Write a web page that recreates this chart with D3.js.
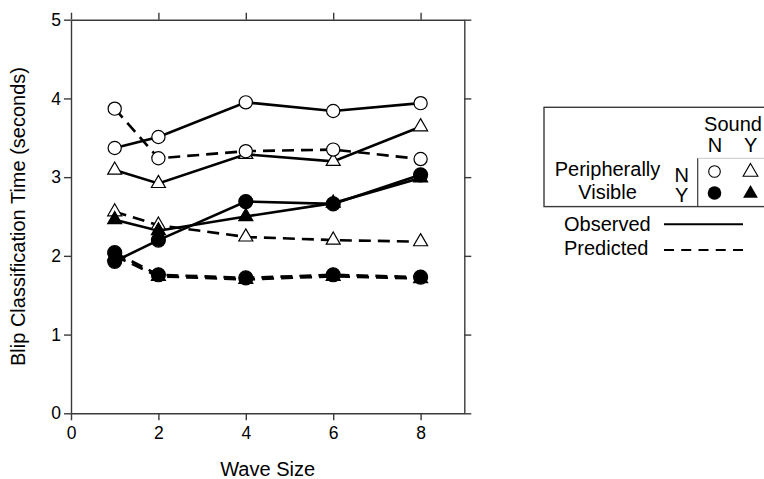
<!DOCTYPE html>
<html><head><meta charset="utf-8">
<script src="https://cdn.jsdelivr.net/npm/d3@7"></script>
<style>
html,body{margin:0;padding:0;background:#fff;}
text{font-family:"Liberation Sans",Arial,Helvetica,sans-serif;fill:#000;}
</style></head>
<body><svg id="chart" width="764" height="479"></svg>
<script>
// ---- data ----
const waveSizes = [1, 2, 4, 6, 8];
const obsOpenCircle     = [3.37, 3.51, 3.95, 3.84, 3.94];
const obsOpenTriangle   = [3.09, 2.92, 3.29, 3.20, 3.64];
const obsFilledCircle   = [1.93, 2.20, 2.69, 2.66, 3.03];
const obsFilledTriangle = [2.46, 2.32, 2.50, 2.67, 2.99];
const predOpenCircle     = [3.87, 3.24, 3.33, 3.35, 3.23];
const predOpenTriangle   = [2.56, 2.39, 2.24, 2.20, 2.18];
const predFilledCircle   = [2.04, 1.76, 1.72, 1.76, 1.73];
const predFilledTriangle = [2.00, 1.74, 1.70, 1.74, 1.71];
const xTicks = [0, 2, 4, 6, 8];
const yTicks = [0, 1, 2, 3, 4, 5];
const xLabel = "Wave Size";
const yLabel = "Blip Classification Time (seconds)";

const series = [
  {vals: obsOpenTriangle,   shape: "triangle", filled: false, dashed: false},
  {vals: predOpenTriangle,  shape: "triangle", filled: false, dashed: true},
  {vals: obsFilledTriangle, shape: "triangle", filled: true,  dashed: false},
  {vals: predFilledTriangle,shape: "triangle", filled: true,  dashed: true},
  {vals: obsOpenCircle,     shape: "circle",   filled: false, dashed: false},
  {vals: predOpenCircle,    shape: "circle",   filled: false, dashed: true},
  {vals: predFilledCircle,  shape: "circle",   filled: true,  dashed: true},
  {vals: obsFilledCircle,   shape: "circle",   filled: true,  dashed: false}
];

const svg = d3.select("#chart");
const L = 71, R = 464.3, T = 19.7, B = 413.3;
const x = d3.scaleLinear().domain([0, 9]).range([L, R]);
const y = d3.scaleLinear().domain([0, 5]).range([B, T]);
const axisColor = "#3a3a3a";

function styleAxis(g){
  g.selectAll("path.domain").attr("stroke", axisColor).attr("stroke-width", 1.4);
  g.selectAll(".tick line").attr("stroke", axisColor).attr("stroke-width", 1.4);
  g.selectAll("text").attr("font-size", "17.5px").attr("fill", "#000")
    .attr("font-family", "Liberation Sans, Arial, sans-serif");
}
const gB = svg.append("g").attr("transform", `translate(0,${B})`)
  .call(d3.axisBottom(x).tickValues(xTicks).tickSize(7).tickSizeOuter(0).tickPadding(6).tickFormat(d3.format("d")));
styleAxis(gB);
const gT = svg.append("g").attr("transform", `translate(0,${T})`)
  .call(d3.axisTop(x).tickValues(xTicks).tickSize(7).tickSizeOuter(0).tickFormat(""));
styleAxis(gT);
const gL = svg.append("g").attr("transform", `translate(${L},0)`)
  .call(d3.axisLeft(y).tickValues(yTicks).tickSize(7).tickSizeOuter(0).tickPadding(3).tickFormat(d3.format("d")));
styleAxis(gL);
const gR = svg.append("g").attr("transform", `translate(${R},0)`)
  .call(d3.axisRight(y).tickValues(yTicks).tickSize(7).tickSizeOuter(0).tickFormat(""));
styleAxis(gR);

// axis titles
svg.append("text").attr("x", (L + R) / 2).attr("y", 476).attr("text-anchor", "middle")
  .attr("font-size", "20px").text(xLabel);
svg.append("text").attr("transform", `translate(25,${(T + B) / 2}) rotate(-90)`)
  .attr("text-anchor", "middle").attr("font-size", "20px").text(yLabel);

// lines
const line = d3.line().x((d, i) => x(waveSizes[i])).y(d => y(d));
svg.append("g").selectAll("path").data(series).join("path")
  .attr("d", s => line(s.vals))
  .attr("fill", "none").attr("stroke", "#000").attr("stroke-width", 2.6)
  .attr("stroke-dasharray", s => s.dashed ? "12,7" : null);

// markers
const triSym = d3.symbol().type(d3.symbolTriangle).size(85);
const mg = svg.append("g");
series.forEach(s => {
  const g = mg.append("g");
  s.vals.forEach((v, i) => {
    if (s.shape === "circle") {
      g.append("circle").attr("cx", x(waveSizes[i])).attr("cy", y(v))
        .attr("r", s.filled ? 7 : 6.6)
        .attr("fill", s.filled ? "#000" : "#fff").attr("stroke", "#000").attr("stroke-width", 1.2);
    } else {
      g.append("path").attr("d", triSym())
        .attr("transform", `translate(${x(waveSizes[i])},${y(v)})`)
        .attr("fill", s.filled ? "#000" : "#fff").attr("stroke", "#000").attr("stroke-width", 1.2);
    }
  });
});

// legend
const lg = svg.append("g");
const fs = "20px";
lg.append("rect").attr("x", 544).attr("y", 107.3).attr("width", 240).attr("height", 99.3)
  .attr("fill", "none").attr("stroke", axisColor).attr("stroke-width", 1.4);
lg.append("line").attr("x1", 697.7).attr("x2", 697.7).attr("y1", 158.3).attr("y2", 206.6)
  .attr("stroke", axisColor).attr("stroke-width", 1.2);
lg.append("line").attr("x1", 697.7).attr("x2", 770).attr("y1", 158.3).attr("y2", 158.3)
  .attr("stroke", "#bbb").attr("stroke-width", 0.8);
lg.append("text").attr("x", 733).attr("y", 130.7).attr("text-anchor", "middle").attr("font-size", fs).text("Sound");
lg.append("text").attr("x", 715).attr("y", 151.7).attr("text-anchor", "middle").attr("font-size", fs).text("N");
lg.append("text").attr("x", 750.7).attr("y", 151.7).attr("text-anchor", "middle").attr("font-size", fs).text("Y");
lg.append("text").attr("x", 607.5).attr("y", 175.5).attr("text-anchor", "middle").attr("font-size", fs).text("Peripherally");
lg.append("text").attr("x", 607.5).attr("y", 198.5).attr("text-anchor", "middle").attr("font-size", fs).text("Visible");
lg.append("text").attr("x", 681.7).attr("y", 181.5).attr("text-anchor", "middle").attr("font-size", fs).text("N");
lg.append("text").attr("x", 681.7).attr("y", 201.5).attr("text-anchor", "middle").attr("font-size", fs).text("Y");
lg.append("circle").attr("cx", 714.5).attr("cy", 171.5).attr("r", 5.8).attr("fill", "#fff").attr("stroke", "#000").attr("stroke-width", 1.1);
lg.append("circle").attr("cx", 714.5).attr("cy", 193).attr("r", 6.8).attr("fill", "#000");
const legTri = d3.symbol().type(d3.symbolTriangle).size(95);
lg.append("path").attr("d", legTri()).attr("transform", "translate(750.5,172)").attr("fill", "#fff").attr("stroke", "#000").attr("stroke-width", 1.1);
lg.append("path").attr("d", legTri()).attr("transform", "translate(750.5,193.5)").attr("fill", "#000");
lg.append("text").attr("x", 564).attr("y", 230.7).attr("font-size", fs).text("Observed");
lg.append("line").attr("x1", 664).attr("x2", 743).attr("y1", 224.3).attr("y2", 224.3).attr("stroke", "#000").attr("stroke-width", 2);
lg.append("text").attr("x", 564).attr("y", 255).attr("font-size", fs).text("Predicted");
lg.append("line").attr("x1", 664).attr("x2", 743).attr("y1", 250).attr("y2", 250).attr("stroke", "#000").attr("stroke-width", 2).attr("stroke-dasharray", "10,7.25");
</script></body></html>
